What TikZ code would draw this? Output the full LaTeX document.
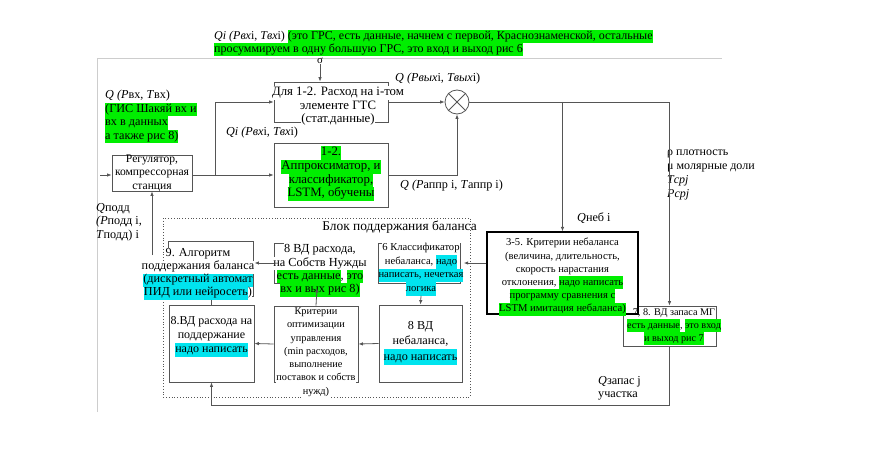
\documentclass[tikz,border=0pt]{standalone}
\usepackage{fontspec}
\setmainfont{Liberation Serif}
\usetikzlibrary{arrows.meta}
\definecolor{hlg}{RGB}{0,238,0}
\definecolor{hlc}{RGB}{0,228,238}
\definecolor{ln}{RGB}{85,85,85}
\definecolor{frm}{RGB}{205,205,205}
\newcommand\HL[2]{{\setlength{\fboxsep}{0pt}\colorbox{#1}{\strut #2}}}
\newcommand\fs[2]{\fontsize{#1}{#2}\selectfont}
\begin{document}
\begin{tikzpicture}[x=1pt,y=-1pt,
  line/.style={draw=ln,line width=0.8pt},
  arr/.style={line,-{Latex[length=4.5pt,width=3.5pt]}},
  box/.style={draw=ln,line width=0.8pt,fill=white,inner sep=0pt},
  txt/.style={inner sep=0pt,align=center,font=\fs{12.2}{13.5}},
  stxt/.style={inner sep=0pt,align=center,font=\fs{10.6}{13.2}},
  ltxt/.style={inner sep=0pt,align=left,font=\fs{12.2}{13.5}}]
\useasboundingbox (0,0) rectangle (871,452);
% page frame
\draw[frm,line width=0.6pt] (97,412) -- (97,58) -- (722,58);
% top text
\node[ltxt,anchor=west,font=\fs{12}{13}] (top) at (214,43) {\textit{Qi (Pвх}i, \textit{Tвх}i) \HL{hlg}{(это ГРС, есть данные, начнем с первой, Краснознаменской, остальные}\\\HL{hlg}{просуммируем в одну большую ГРС, это вход и выход рис 6}};
\node[txt,font=\fs{11}{12}] (sig) at (320,61) {σ};
% dotted block
\draw[ln,dotted,line width=0.8pt] (163,218) rectangle (470,397);
\node[txt,anchor=east,font=\fs{13.4}{15}] (blk) at (477,227) {Блок поддержания баланса};
% boxes
\node[box,minimum width=80,minimum height=36] (reg) at (152,173) {};
\node[txt,font=\fs{11.6}{13.5}] at (152,173) {Регулятор,\\компрессорная\\станция};
\node[box,minimum width=114,minimum height=40] (dl) at (331,102) {};
\node[txt,font=\fs{12.8}{13.5}] (dlt) at (338,106.5) {\HL{white}{Для 1-2. Расход на i-том}\\элементе ГТС\\\HL{white}{(стат.данные)}};
\node[box,minimum width=114,minimum height=64] (ap) at (331,175) {};
\node[txt,font=\fs{12.8}{13.8}] (apt) at (331,173.5) {\HL{hlg}{1-2.}\\\HL{hlg}{Аппроксиматор, и}\\\HL{hlg}{классификатор,}\\\HL{hlg}{LSTM, обучены}};
\node[circle,draw=ln,line width=0.8pt,minimum size=24,inner sep=0pt] (cx) at (457,102) {};
\draw[line] (cx.north west) -- (cx.south east) (cx.north east) -- (cx.south west);
\node[box,minimum width=93,minimum height=40] (b78) at (669.5,326) {};
\node[box,draw=black,line width=1.2pt,minimum width=151,minimum height=82] (b35) at (562.5,273) {};
\node[stxt] (b35t) at (562.5,277) {3-5. Критерии небаланса\\(величина, длительность,\\скорость нарастания\\отклонения, \HL{hlg}{надо написать}\\\HL{hlg}{программу сравнения с}\\\HL{hlg}{LSTM имитация небаланса)}};
\node[stxt,font=\fs{10.2}{13}] (b78t) at (674,327) {7, 8. ВД запаса МГ\\\HL{hlg}{есть данные}, \HL{hlg}{это вход}\\\HL{hlg}{и выход рис 7}};
% inside block
\node[box,minimum width=82,minimum height=40] (b6) at (419,263) {};
\node[stxt,font=\fs{10.6}{13.5}] (b6t) at (421,268.5) {\HL{white}{6 Классификатор}\\\HL{white}{небаланса, }\HL{hlc}{надо}\\\HL{hlc}{написать, нечеткая}\\\HL{hlc}{логика}};
\node[box,minimum width=83,minimum height=77] (b8n) at (420.5,343.5) {};
\node[txt,font=\fs{12.2}{15.5}] (b8nt) at (420.5,343) {8 ВД\\небаланса,\\\HL{hlc}{надо написать}};
\node[box,minimum width=84,minimum height=76] (bk) at (316,344) {};
\node[stxt,font=\fs{10.3}{13.3}] (bkt) at (316,353) {Критерии\\оптимизации\\управления\\(min расходов,\\выполнение\\\HL{white}{поставок и собств}\\\HL{white}{нужд)}};
\node[box,minimum width=85,minimum height=77] (bvr) at (211.5,343.5) {};
\node[txt,font=\fs{12}{14}] (bvrt) at (211.5,337) {8.ВД расхода на\\поддержание\\\HL{hlc}{надо написать}};
\node[box,minimum width=76,minimum height=40] (bs) at (312,263) {};
\node[txt,font=\fs{12.3}{13.3}] (bst) at (320,270) {\HL{white}{8 ВД расхода,}\\\HL{white}{на Собств Нужды}\\\HL{hlg}{есть данные}\HL{white}{, }\HL{hlg}{это}\\\HL{hlg}{вх и вых рис 8)}};
\node[box,minimum width=85,minimum height=55] (b9) at (210.5,268.5) {};
\coordinate (q9) at (152,255);
\draw[arr] (q9) -- (reg.south);
\node[txt,font=\fs{12.2}{13}] (b9t) at (198,273.5) {\HL{white}{9. Алгоритм}\\\HL{white}{поддержания баланса}\\\HL{hlc}{(дискретный автомат}\\\HL{hlc}{ПИД или нейросеть}\HL{white}{)}};
% labels
\node[ltxt,anchor=north west] (lq) at (105,90) {\textit{Q (P}вх, \textit{T}вх)\\\HL{hlg}{(ГИС Шакяй вх и}\\\HL{hlg}{вх в данных}\\\HL{hlg}{а также рис 8)}};
\node[txt] (lqi) at (262,133) {\textit{Qi (Pвх}i, \textit{Tвх}i)};
\node[txt,anchor=west] (lqo) at (395,79) {\textit{Q (Pвых}i, \textit{Tвых}i)};
\node[txt,anchor=west] (lqa) at (400,186) {\textit{Q (P}аппр i, \textit{T}аппр i)};
\node[txt,anchor=west] (lqn) at (577,218) {\textit{Q}неб i};
\node[ltxt,anchor=north west,font=\fs{12}{14}] (lrho) at (667,150) {ρ плотность\\μ молярные доли\\\textit{Tсрj}\\\textit{Pсрj}};
\node[ltxt,anchor=north west] (lqz) at (598,376) {\textit{Q}запас j\\участка};
\node[ltxt,anchor=west] (lqp) at (96,222) {\textit{Q}подд\\\textit{(P}подд i,\\\textit{T}подд) i};
% connectors
\coordinate (in) at (100,175);
\coordinate (j1) at (215,175);
\coordinate (j2) at (562.5,102);
\coordinate (c1) at (669.5,405);
\coordinate (bsb) at (317,288);
\draw[arr] (in) -- (in -| reg.west);
\draw[line] (j1 -| reg.east) -- (j1);
\draw[arr] (j1) -- (ap.west |- j1);
\draw[arr] (j1) |- (dl.west);
\draw[arr] (sig.south) -- (sig |- dl.north);
\draw[arr] (dl.east) -- (cx.west);
\draw[arr] (ap.east) -| (cx.south);
\draw[arr] (cx.east) -| (b78.north);
\draw[arr] (j2) -- (b35.north);
\draw[arr] (b78.south) -- (c1) -| (bvr.south);
\draw[arr] (b35.west |- b6.east) -- (b6t.east |- b6.east);
\draw[arr] (b6t.south) -- (b8n.north);
\draw[arr] (b8n.west) -- (bk.east);
\draw[arr] (bk.west) -- (bvr.east);
\draw[arr] (bk.north) -- (bsb);
\draw[arr] (bs.west) -- (b9t.east |- bs.west);
\draw[line] (bvr.north |- b9t.south) -- (bvr.north);
\end{tikzpicture}
\end{document}
